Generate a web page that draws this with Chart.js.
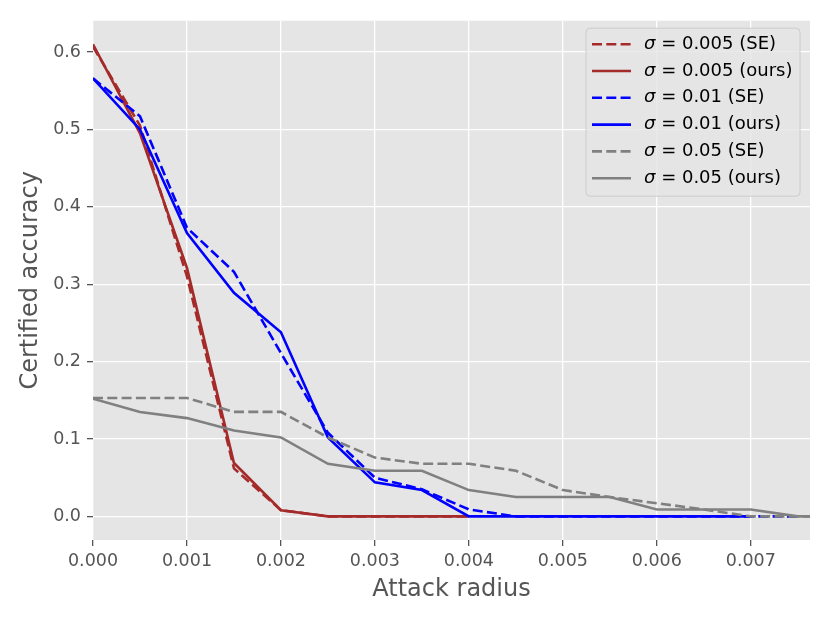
<!DOCTYPE html>
<html>
<head>
<meta charset="utf-8">
<script src="https://cdn.jsdelivr.net/npm/chart.js@4/dist/chart.umd.min.js"></script>
<style>
	html, body { margin: 0; padding: 0; background: #fff; }
	#chartBox { width: 830px; height: 623px; }
</style>
</head>
<body>
<div id="chartBox"><canvas id="canvasRadius" width="830" height="623"></canvas></div>
<script>
// attack radius on the x axis, one step every 0.0005
const radius = [0, 0.0005, 0.001, 0.0015, 0.002, 0.0025, 0.003, 0.0035, 0.004, 0.0045, 0.005, 0.0055, 0.006, 0.0065, 0.007, 0.0075, 0.008];

const sigma005SE   = [0.607, 0.505, 0.310, 0.062, 0.008, 0, 0, 0, 0];
const sigma005Ours = [0.610, 0.495, 0.321, 0.069, 0.008, 0, 0, 0, 0];
const sigma01SE    = [0.566, 0.517, 0.373, 0.316, 0.211, 0.108, 0.050, 0.035, 0.009, 0, 0, 0, 0, 0, 0, 0];
const sigma01Ours  = [0.566, 0.500, 0.366, 0.289, 0.238, 0.102, 0.044, 0.034, 0, 0, 0, 0, 0, 0, 0];
const sigma05SE    = [0.153, 0.153, 0.153, 0.135, 0.135, 0.102, 0.076, 0.068, 0.068, 0.059, 0.034, 0.025, 0.017, 0.009, 0, 0, 0];
const sigma05Ours  = [0.152, 0.135, 0.127, 0.111, 0.102, 0.068, 0.059, 0.059, 0.034, 0.025, 0.025, 0.025, 0.009, 0.009, 0.009, 0, 0];

const seriesLabels = ['σ = 0.005 (SE)', 'σ = 0.005 (ours)', 'σ = 0.01 (SE)', 'σ = 0.01 (ours)', 'σ = 0.05 (SE)', 'σ = 0.05 (ours)'];

const xTicks = [0, 0.001, 0.002, 0.003, 0.004, 0.005, 0.006, 0.007];
const yTicks = [0, 0.1, 0.2, 0.3, 0.4, 0.5, 0.6];

const fontFamily = '"DejaVu Sans", sans-serif';
const dashed = [10, 4.3];

function toPoints(values) {
	return values.map((v, i) => ({ x: radius[i], y: v }));
}

function makeSet(idx, values, color, isDashed) {
	return {
		label: seriesLabels[idx],
		data: toPoints(values),
		borderColor: color,
		backgroundColor: color,
		borderWidth: 2.6,
		borderDash: isDashed ? dashed : [],
		pointRadius: 0,
		tension: 0,
		fill: false,
		// matplotlib draws later lines on top
		order: 10 - idx,
	};
}

// grey panel behind the plot, like the ggplot style
const panelBackground = {
	id: 'panelBackground',
	beforeDraw(chart) {
		const { ctx, chartArea } = chart;
		ctx.save();
		ctx.fillStyle = '#E5E5E5';
		ctx.fillRect(chartArea.left, chartArea.top, chartArea.right - chartArea.left, chartArea.bottom - chartArea.top);
		ctx.restore();
	}
};

// legend box in the upper right corner of the plot
const cornerLegend = {
	id: 'cornerLegend',
	afterDraw(chart) {
		const { ctx, chartArea } = chart;
		const sets = chart.data.datasets;
		const boxW = 214, rowH = 26.8, boxH = 168;
		const boxX = chartArea.right - 10 - boxW;
		const boxY = chartArea.top + 7.5;

		ctx.save();
		ctx.beginPath();
		ctx.roundRect(boxX, boxY, boxW, boxH, 4);
		ctx.fillStyle = 'rgba(229, 229, 229, 0.8)';
		ctx.fill();
		ctx.strokeStyle = '#CCCCCC';
		ctx.lineWidth = 1;
		ctx.stroke();

		sets.forEach((ds, i) => {
			const rowY = boxY + 16 + i * rowH;
			ctx.beginPath();
			ctx.setLineDash(ds.borderDash);
			ctx.strokeStyle = ds.borderColor;
			ctx.lineWidth = ds.borderWidth;
			ctx.moveTo(boxX + 6, rowY);
			ctx.lineTo(boxX + 45, rowY);
			ctx.stroke();
			ctx.setLineDash([]);

			ctx.fillStyle = '#000';
			ctx.textBaseline = 'middle';
			ctx.textAlign = 'left';
			let tx = boxX + 58;
			const label = ds.label;
			if (label.startsWith('σ')) {
				ctx.font = 'italic 18px ' + fontFamily;
				ctx.fillText('σ', tx, rowY);
				tx += ctx.measureText('σ').width;
				ctx.font = '18px ' + fontFamily;
				ctx.fillText(label.slice(1), tx, rowY);
			} else {
				ctx.font = '18px ' + fontFamily;
				ctx.fillText(label, tx, rowY);
			}
		});
		ctx.restore();
	}
};

const canvasRadius = document.getElementById('canvasRadius');

const chartRadius = new Chart(canvasRadius, {
	type: 'line',
	data: {
		datasets: [
			makeSet(0, sigma005SE, '#A52A2A', true),
			makeSet(1, sigma005Ours, '#A52A2A', false),
			makeSet(2, sigma01SE, '#0000FF', true),
			makeSet(3, sigma01Ours, '#0000FF', false),
			makeSet(4, sigma05SE, '#808080', true),
			makeSet(5, sigma05Ours, '#808080', false),
		]
	},
	options: {
		responsive: false,
		animation: false,
		devicePixelRatio: 1,
		layout: {
			padding: { top: 20.7, right: 20, bottom: 0, left: 0 }
		},
		scales: {
			x: {
				type: 'linear',
				min: 0,
				max: 0.00763,
				afterBuildTicks(scale) {
					scale.ticks = xTicks.map(v => ({ value: v }));
				},
				afterFit(scale) {
					scale.height = 83;
				},
				border: { display: false },
				grid: {
					color: '#FFFFFF',
					lineWidth: 1.3,
					drawTicks: true,
					tickLength: 6,
					tickColor: '#555555',
				},
				ticks: {
					color: '#555555',
					font: { family: fontFamily, size: 17.5 },
					padding: 5,
					maxRotation: 0,
					autoSkip: false,
					callback: v => v.toFixed(3),
				},
				title: {
					display: true,
					text: 'Attack radius',
					color: '#555555',
					font: { family: fontFamily, size: 24 },
					padding: { top: 0, bottom: 19 },
				}
			},
			y: {
				type: 'linear',
				min: -0.0305,
				max: 0.6405,
				afterBuildTicks(scale) {
					scale.ticks = yTicks.map(v => ({ value: v }));
				},
				afterFit(scale) {
					scale.width = 93;
				},
				border: { display: false },
				grid: {
					color: '#FFFFFF',
					lineWidth: 1.3,
					drawTicks: true,
					tickLength: 6,
					tickColor: '#555555',
				},
				ticks: {
					color: '#555555',
					font: { family: fontFamily, size: 17.5 },
					padding: 6,
					autoSkip: false,
					callback: v => v.toFixed(1),
				},
				title: {
					display: true,
					text: 'Certified accuracy',
					color: '#555555',
					font: { family: fontFamily, size: 24 },
					padding: { top: 16, bottom: 0 },
				}
			}
		},
		plugins: {
			legend: { display: false },
			tooltip: { enabled: false },
		}
	},
	plugins: [panelBackground, cornerLegend]
});
</script>
</body>
</html>
